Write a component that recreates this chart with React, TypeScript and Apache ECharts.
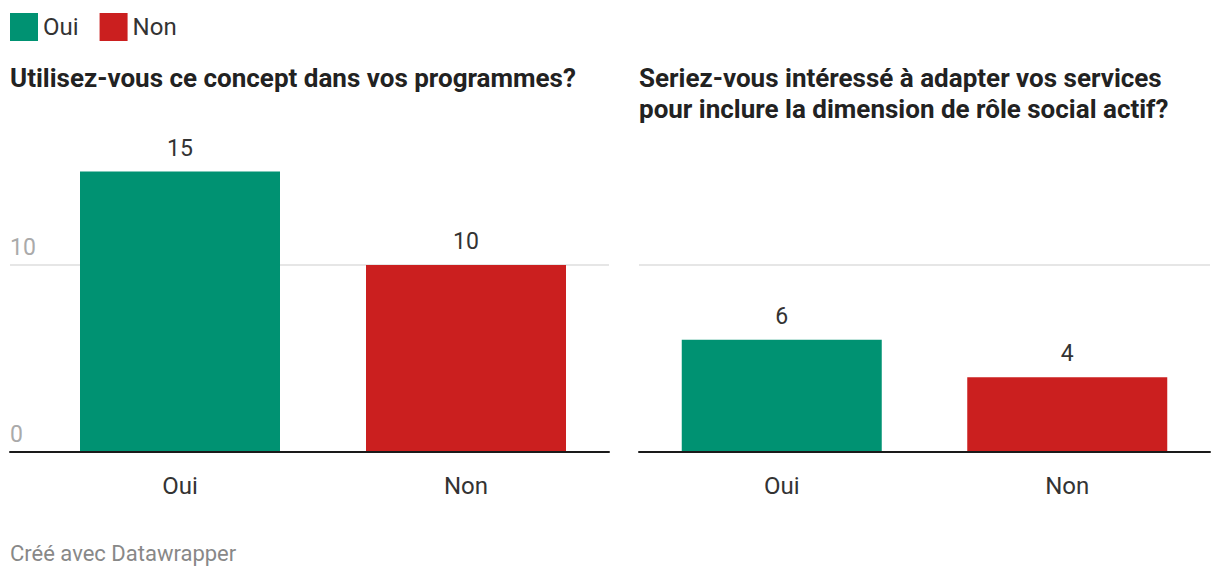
import React, { useEffect, useRef } from "react";
import * as echarts from "echarts";

const categories = ["Oui", "Non"];
const seriesNames = ["Oui", "Non"];
const leftValues = [15, 10];
const rightValues = [6, 4];
const leftTitle = "Utilisez-vous ce concept dans vos programmes?";
const rightTitle = "Seriez-vous intéressé à adapter vos services\npour inclure la dimension de rôle social actif?";
const footer = "Créé avec Datawrapper";
const gridValue = 10;

const GREEN = "#009272";
const RED = "#cb1f1f";
const FONT = "Roboto";

export default function App() {
  const ref = useRef<HTMLDivElement>(null);
  useEffect(() => {
    if (!ref.current) return;
    const chart = echarts.init(ref.current, undefined, { renderer: "svg" });
    const colors = [GREEN, RED];
    const yBase = { type: "value", min: 0, max: 20, interval: 10 };
    const valueLabel = {
      show: true,
      position: "top",
      distance: 12,
      fontSize: 23,
      color: "#333",
      fontFamily: FONT,
    };
    const catLabel = { fontSize: 24, color: "#333", fontFamily: FONT, margin: 22 };
    const makeBars = (values: number[], axisIndex: number, withMark: boolean) =>
      seriesNames.map((name, i) => ({
        type: "bar",
        name,
        xAxisIndex: axisIndex,
        yAxisIndex: axisIndex,
        stack: "s" + axisIndex,
        barWidth: 200,
        z: 3,
        data: categories.map((_, j) => (j === i ? values[j] : "-")),
        itemStyle: { color: colors[i] },
        label: valueLabel,
        markLine:
          withMark && i === 0
            ? {
                silent: true,
                symbol: "none",
                z: 1,
                label: { show: false },
                lineStyle: { color: "#e6e6e6", width: 2, type: "solid" },
                data: [{ yAxis: gridValue }],
              }
            : undefined,
      }));

    chart.setOption({
      animation: false,
      textStyle: { fontFamily: FONT },
      title: [
        {
          text: leftTitle,
          left: 5,
          top: 60,
          textStyle: { fontSize: 26, fontWeight: "bold", color: "#222", fontFamily: FONT },
        },
        {
          text: rightTitle,
          left: 634,
          top: 57,
          textStyle: { fontSize: 26, fontWeight: "bold", color: "#222", fontFamily: FONT, lineHeight: 31 },
        },
        {
          text: footer,
          left: 5,
          top: 537,
          textStyle: { fontSize: 22, fontWeight: "normal", color: "#888", fontFamily: FONT },
        },
      ],
      legend: {
        left: 5,
        top: 8,
        itemWidth: 28,
        itemHeight: 28,
        itemGap: 21,
        icon: "rect",
        data: seriesNames,
        textStyle: { fontSize: 24, color: "#333", fontFamily: FONT },
        selectedMode: false,
      },
      grid: [
        { left: 10, width: 599, top: 78, height: 374 },
        { left: 37, width: 572, top: 78, height: 374 },
        { left: 639, width: 571, top: 78, height: 374 },
      ],
      xAxis: [
        {
          type: "category",
          gridIndex: 0,
          data: [""],
          axisLine: { show: true, lineStyle: { color: "#1a1a1a", width: 2 } },
          axisTick: { show: false },
          axisLabel: { show: false },
          z: 5,
        },
        {
          type: "category",
          gridIndex: 1,
          data: categories,
          axisLine: { show: false },
          axisTick: { show: false },
          axisLabel: catLabel,
        },
        {
          type: "category",
          gridIndex: 2,
          data: categories,
          axisLine: { show: true, lineStyle: { color: "#1a1a1a", width: 2 } },
          axisTick: { show: false },
          axisLabel: catLabel,
          z: 5,
        },
      ],
      yAxis: [
        {
          ...yBase,
          gridIndex: 0,
          axisLine: { show: false },
          axisTick: { show: false },
          splitLine: { show: false },
          axisLabel: {
            inside: true,
            margin: 0,
            align: "left",
            verticalAlign: "bottom",
            padding: [0, 0, 6, 0],
            fontSize: 23,
            color: "#aaaaaa",
            fontFamily: FONT,
            formatter: (v: number) => (v === 20 ? "" : String(v)),
          },
        },
        { ...yBase, gridIndex: 1, show: false, splitLine: { show: false } },
        { ...yBase, gridIndex: 2, show: false, splitLine: { show: false } },
      ],
      series: [
        {
          type: "line",
          name: "_grid",
          xAxisIndex: 0,
          yAxisIndex: 0,
          data: [null],
          symbol: "none",
          z: 0,
          markLine: {
            silent: true,
            symbol: "none",
            z: 0,
            label: { show: false },
            lineStyle: { color: "#e6e6e6", width: 2, type: "solid" },
            data: [{ yAxis: gridValue }],
          },
        },
        ...makeBars(leftValues, 1, false),
        ...makeBars(rightValues, 2, true),
      ],
    });
    return () => chart.dispose();
  }, []);
  return (
    <div
      ref={ref}
      style={{ position: "absolute", left: 0, top: 0, width: 1220, height: 580 }}
    />
  );
}
